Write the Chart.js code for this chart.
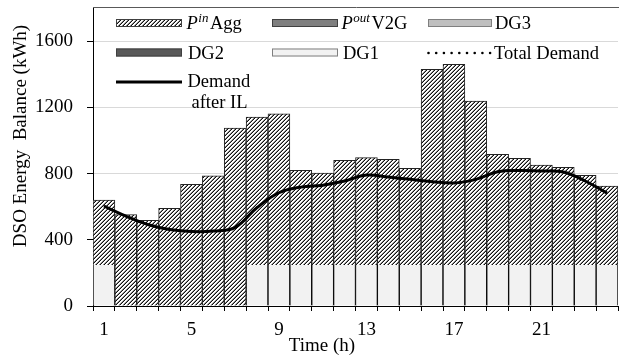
<!DOCTYPE html>
<html>
<head>
<meta charset="utf-8">
<script src="https://cdn.jsdelivr.net/npm/chart.js@4.4.1/dist/chart.umd.min.js"></script>
<style>
  body { margin: 0; background: #fff; }
  #wrap { width: 619px; height: 361px; }
</style>
</head>
<body>
<div id="wrap"><canvas id="dso" width="619" height="361"></canvas></div>
<script>
// --- data ---
const hours = ['1','2','3','4','5','6','7','8','9','10','11','12','13','14','15','16','17','18','19','20','21','22','23','24'];
const dg1 = [248, 0, 0, 0, 0, 0, 0, 248, 248, 248, 248, 248, 248, 248, 248, 248, 248, 248, 248, 248, 248, 248, 248, 248];
const aggIn = [392, 552, 517, 590, 735, 786, 1075, 893, 913, 571, 555, 632, 648, 638, 583, 1181, 1211, 990, 668, 644, 603, 589, 541, 477];
const demandAfterIL = [604, 543, 492, 462, 450, 453, 475, 595, 684, 718, 730, 755, 791, 779, 765, 751, 743, 765, 811, 819, 815, 809, 755, 682];
const yTicks = [0, 400, 800, 1200, 1600];
const xLabelEvery = 4;

const FONT = '"Liberation Serif", "Times New Roman", serif';
Chart.defaults.font.family = FONT;
Chart.defaults.color = '#000';

const canvas = document.getElementById('dso');
const ctx = canvas.getContext('2d');

// wide upward diagonal hatch
function makeHatch() {
  const c = document.createElement('canvas');
  c.width = 4; c.height = 4;
  const g = c.getContext('2d');
  g.fillStyle = '#fff';
  g.fillRect(0, 0, 4, 4);
  for (let x = 0; x < 4; x++) {
    for (let y = 0; y < 4; y++) {
      const k = (x + y) % 4;
      if (k === 0) { g.fillStyle = '#111'; g.fillRect(x, y, 1, 1); }
      if (k === 3) { g.fillStyle = '#8c8c8c'; g.fillRect(x, y, 1, 1); }
    }
  }
  return ctx.createPattern(c, 'repeat');
}
const hatch = makeHatch();

// legend + titles + top frame, drawn by hand (superscripts)
const extras = {
  id: 'extras',
  afterDraw(chart) {
    const c = chart.ctx;
    const a = chart.chartArea;
    c.save();
    // top frame
    c.strokeStyle = '#595959';
    c.lineWidth = 1;
    c.beginPath();
    c.moveTo(a.left, a.top - 0.5);
    c.lineTo(a.right + 2, a.top - 0.5);
    c.stroke();

    // axis titles
    c.fillStyle = '#000';
    c.font = '19px ' + FONT;
    c.textAlign = 'center';
    c.textBaseline = 'middle';
    c.fillText('Time (h)', 322, 346);
    c.save();
    c.translate(21, 136);
    c.rotate(-Math.PI / 2);
    c.fillText('DSO Energy  Balance (kWh)', 0, 0);
    c.restore();

    // legend
    c.textAlign = 'left';
    c.textBaseline = 'alphabetic';
    const lf = '18.5px ' + FONT;
    const swatch = (x, y, w, h, fill, stroke) => {
      c.fillStyle = fill;
      c.fillRect(x, y, w, h);
      c.strokeStyle = stroke;
      c.lineWidth = 1;
      c.strokeRect(x + 0.5, y + 0.5, w - 1, h - 1);
    };
    const supText = (x, base, sup, rest) => {
      c.fillStyle = '#000';
      c.font = 'italic ' + lf;
      c.fillText('P', x, base);
      x += c.measureText('P').width + 0.5;
      c.font = 'italic 13px ' + FONT;
      c.fillText(sup, x, base - 7);
      x += c.measureText(sup).width + 1.5;
      c.font = lf;
      c.fillText(rest, x, base);
    };
    const plain = (t, x, base) => {
      c.fillStyle = '#000';
      c.font = lf;
      c.fillText(t, x, base);
    };

    swatch(116, 19, 66, 8, hatch, '#404040');
    supText(186.5, 29.3, 'in', 'Agg');
    swatch(272, 19, 66, 8, '#7f7f7f', '#404040');
    supText(341.5, 29.3, 'out', 'V2G');
    swatch(428, 19, 64, 8, '#bfbfbf', '#7f7f7f');
    plain('DG3', 495, 29.3);

    swatch(116, 48.5, 66, 8, '#595959', '#404040');
    plain('DG2', 188, 59.3);
    swatch(272, 48.5, 66, 8, '#f2f2f2', '#7f7f7f');
    plain('DG1', 343, 59.3);
    c.fillStyle = '#000';
    for (let i = 0; i < 9; i++) {
      c.beginPath();
      c.arc(428.5 + i * 7.7, 53, 1.3, 0, Math.PI * 2);
      c.fill();
    }
    plain('Total Demand', 494, 59.3);

    c.strokeStyle = '#000';
    c.lineWidth = 3;
    c.beginPath();
    c.moveTo(116, 82);
    c.lineTo(182, 82);
    c.stroke();
    plain('Demand', 187.5, 87.3);
    plain('after IL', 191.5, 108.3);
    c.restore();
  }
};

new Chart(ctx, {
  data: {
    labels: hours,
    datasets: [
      {
        type: 'bar',
        label: 'DG1',
        data: dg1,
        stack: 'supply',
        backgroundColor: '#f2f2f2',
        borderColor: '#000',
        borderWidth: { left: 1, right: 1, top: 0, bottom: 0 },
        borderSkipped: false,
        order: 2,
      },
      {
        type: 'bar',
        label: 'Pin Agg',
        data: aggIn,
        stack: 'supply',
        backgroundColor: hatch,
        borderColor: '#222',
        borderWidth: { left: 1, right: 1, top: 1, bottom: 0 },
        borderSkipped: false,
        order: 2,
      },
      {
        type: 'line',
        label: 'Demand after IL',
        data: demandAfterIL,
        stack: 'demand',
        borderColor: '#000',
        borderWidth: 3,
        pointRadius: 0,
        tension: 0.4,
        fill: false,
        order: 1,
      },
    ]
  },
  options: {
    responsive: false,
    animation: false,
    layout: { padding: { top: 8, right: 1, left: 0, bottom: 0 } },
    plugins: {
      legend: { display: false },
      tooltip: { enabled: false },
    },
    datasets: { bar: { barPercentage: 1, categoryPercentage: 1 } },
    scales: {
      x: {
        stacked: true,
        offset: true,
        grid: {
          offset: true,
          drawOnChartArea: false,
          tickLength: 5,
          tickColor: '#000',
        },
        border: { color: '#000', width: 1 },
        ticks: {
          autoSkip: false,
          maxRotation: 0,
          padding: 8,
          font: { size: 19 },
          color: '#000',
          callback: (v, i) => (i % xLabelEvery === 0 ? hours[i] : ''),
        },
        afterFit: s => { s.height = 55; s.paddingLeft = 0; s.paddingRight = 0; },
      },
      y: {
        stacked: true,
        min: 0,
        max: 1800,
        afterBuildTicks: s => { s.ticks = yTicks.map(v => ({ value: v })).concat([{ value: 1800 }]); },
        grid: {
          color: c => (c.tick && (c.tick.value === 0 || c.tick.value === 1800) ? 'rgba(0,0,0,0)' : '#d9d9d9'),
          tickColor: c => (c.tick && c.tick.value === 1800 ? 'rgba(0,0,0,0)' : '#000'),
          tickLength: 6,
        },
        border: { color: '#000', width: 1 },
        ticks: {
          padding: 14,
          font: { size: 19 },
          color: '#000',
          callback: v => (v > 1600 ? '' : v),
        },
        afterFit: s => { s.width = 93; s.paddingTop = 0; s.paddingBottom = 0; },
      }
    }
  },
  plugins: [extras]
});
</script>
</body>
</html>
